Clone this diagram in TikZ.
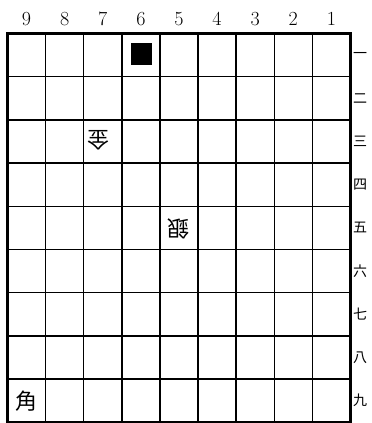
\documentclass[tikz,border=0pt]{standalone}
\usepackage{fontspec}
\newfontfamily\jp{Noto Sans CJK JP}
\begin{document}
\begin{tikzpicture}[x=1pt,y=-1pt,
  colnum/.style={font=\fontsize{20}{20}\selectfont, inner sep=0pt},
  rownum/.style={font=\jp\fontsize{14}{14}\selectfont, anchor=west, inner sep=0pt},
  piece/.style={font=\jp\fontsize{22}{22}\selectfont, inner sep=0pt},
  gote/.style={piece, rotate=180},
  gridline/.style={line width=1.4pt},
  frame/.style={line width=2.8pt},
  blacksq/.style={fill=black, draw=none, minimum width=21pt, minimum height=22pt, inner sep=0pt}]
\useasboundingbox (0,0) rectangle (372,423);
\foreach \i in {1,...,8} {
  \draw[gridline] (7.5+\i*38.1,33.5) -- (7.5+\i*38.1,422.3);
  \draw[gridline] (7.5,33.5+\i*43.2) -- (350.4,33.5+\i*43.2);
}
\draw[frame] (7.5,33.5) rectangle (350.4,422.3);
\foreach \n in {1,...,9} {
  \node[colnum] (col\n) at (7.5+9.5*38.1-\n*38.1,19) {\n};
}
\foreach \k/\r in {一/1,二/2,三/3,四/4,五/5,六/6,七/7,八/8,九/9} {
  \node[rownum] (row\r) at (353,33.5+\r*43.2-21.6) {\k};
}
\node[blacksq] (sq) at (141,54) {};
\node[gote] (kin) at (98.5,140) {金};
\node[gote] (gin) at (178,229) {銀};
\node[piece] (kaku) at (26,401) {角};
\end{tikzpicture}
\end{document}
